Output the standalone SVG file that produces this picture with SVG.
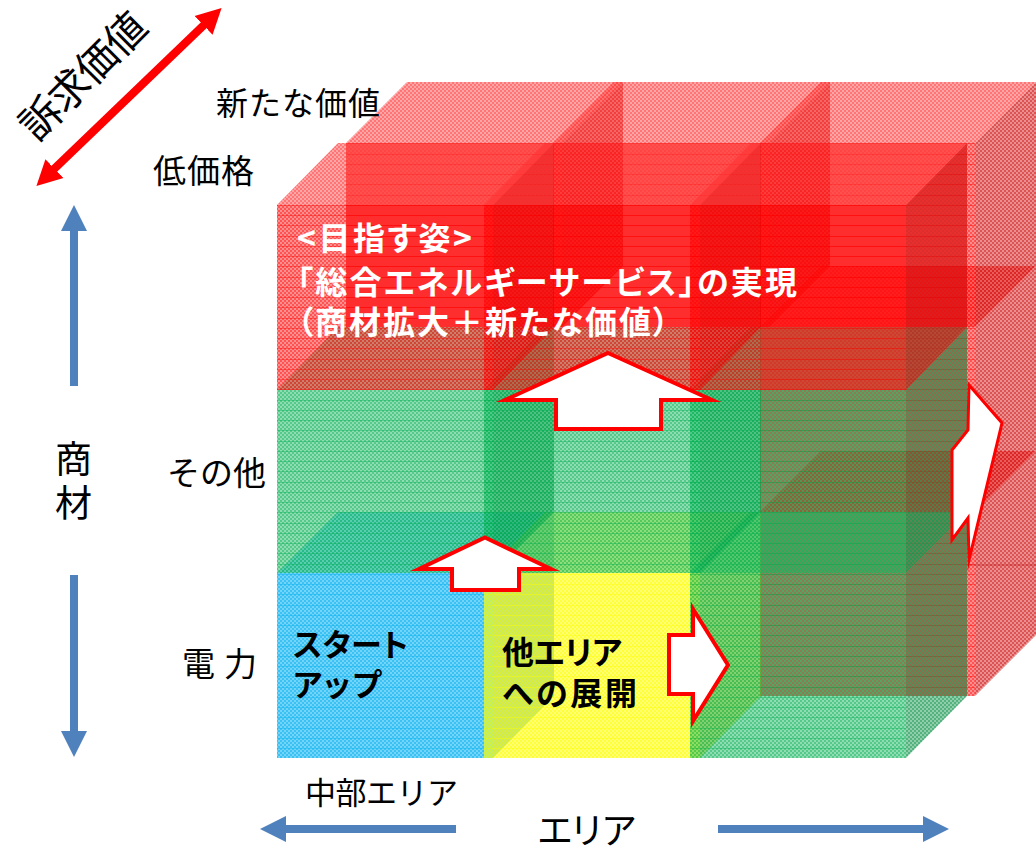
<svg xmlns="http://www.w3.org/2000/svg" width="1036" height="848" viewBox="0 0 1036 848">
<style>
text{font-family:"Noto Sans CJK JP","Liberation Sans",sans-serif;fill:#000}
.w{fill:#fff;font-weight:700;font-feature-settings:"palt"}
.b{font-weight:700;font-feature-settings:"palt"}
.f{mask:url(#mf)}
.t,.s{mask:url(#mt)}
#layer-back .f{mask:url(#mf2)}
#layer-back .t,#layer-back .s{mask:url(#mt2)}
.blu .f,.yel .f{mask:url(#mfh)}
.red .f{fill:#f00}.red .t{fill:#f33}.red .s{fill:#c00}
.grn .f{fill:#00b050}.grn .t{fill:#33c073}.grn .s{fill:#008d40}
.blu .f{fill:#00b0f0}.blu .t{fill:#33c0f3}.blu .s{fill:#008dc0}
.yel .f{fill:#ff0}.yel .t{fill:#ff3}.yel .s{fill:#cc0}
.ua{fill:#fff;stroke:#f00;stroke-width:4;stroke-miterlimit:12}
.ba{stroke:#4f81bd;stroke-width:8;fill:none;marker-end:url(#bh)}
</style>
<defs>
<pattern id="ck" width="4" height="4" patternUnits="userSpaceOnUse">
<rect width="4" height="4" fill="#fff" fill-opacity=".44"/>
<rect width="2" height="2" fill="#fff" fill-opacity=".42"/>
<rect x="2" y="2" width="2" height="2" fill="#fff" fill-opacity=".42"/>
</pattern>
<pattern id="ck2" width="4" height="4" patternUnits="userSpaceOnUse">
<rect width="4" height="4" fill="#fff" fill-opacity=".44"/>
<rect x="2" width="2" height="2" fill="#fff" fill-opacity=".42"/>
<rect y="2" width="2" height="2" fill="#fff" fill-opacity=".42"/>
</pattern>
<pattern id="ckh" width="4" height="4" patternUnits="userSpaceOnUse">
<rect width="4" height="4" fill="#fff" fill-opacity=".55"/>
<rect width="2" height="2" fill="#fff" fill-opacity=".5"/>
<rect x="2" y="2" width="2" height="2" fill="#fff" fill-opacity=".5"/>
</pattern>
<pattern id="ln" width="4" height="41" y="205" patternUnits="userSpaceOnUse">
<rect y="0" width="4" height="1" fill="#fff" fill-opacity=".4"/>
<rect y="10" width="4" height="1" fill="#fff" fill-opacity=".4"/>
<rect y="20" width="4" height="1" fill="#fff" fill-opacity=".4"/>
<rect y="31" width="4" height="1" fill="#fff" fill-opacity=".4"/>
</pattern>
<mask id="mf" maskUnits="userSpaceOnUse" x="0" y="0" width="1036" height="848">
<rect width="1036" height="848" fill="url(#ck)"/>
<rect width="1036" height="848" fill="url(#ln)"/>
</mask>
<mask id="mt" maskUnits="userSpaceOnUse" x="0" y="0" width="1036" height="848">
<rect width="1036" height="848" fill="url(#ck)"/>
</mask>
<mask id="mf2" maskUnits="userSpaceOnUse" x="0" y="0" width="1036" height="848">
<rect width="1036" height="848" fill="url(#ck2)"/>
<rect width="1036" height="848" fill="url(#ln)"/>
</mask>
<mask id="mt2" maskUnits="userSpaceOnUse" x="0" y="0" width="1036" height="848">
<rect width="1036" height="848" fill="url(#ck2)"/>
</mask>
<mask id="mfh" maskUnits="userSpaceOnUse" x="0" y="0" width="1036" height="848">
<rect width="1036" height="848" fill="url(#ckh)"/>
<rect width="1036" height="848" fill="url(#ln)"/>
</mask>
<marker id="rh" markerUnits="userSpaceOnUse" markerWidth="26" markerHeight="28" refX="2" refY="14" orient="auto-start-reverse"><path d="M0 1L25 14L0 27z" fill="#f00"/></marker>
<marker id="bh" markerUnits="userSpaceOnUse" markerWidth="26" markerHeight="26" refX="0" refY="13" orient="auto"><path d="M0 0L26 13L0 26z" fill="#4f81bd"/></marker>
</defs>

<g id="layer-back">
<g id="cube-b-0-0" class="red"><rect class="f" x="346" y="143" width="216" height="184"/><polygon class="t" points="346,143 407,82 623,82 562,143"/><polygon class="s" points="562,143 623,82 623,266 562,327"/></g>
<g id="cube-b-1-0" class="red"><rect class="f" x="553" y="143" width="216" height="184"/><polygon class="t" points="553,143 614,82 830,82 769,143"/><polygon class="s" points="769,143 830,82 830,266 769,327"/></g>
<g id="cube-b-2-2" class="red"><rect class="f" x="760" y="512" width="215" height="184"/><polygon class="t" points="760,512 821,451 1036,451 975,512"/><polygon class="s" points="975,512 1036,451 1036,635 975,696"/></g>
<g id="cube-b-2-1" class="red"><rect class="f" x="760" y="327" width="215" height="185"/><polygon class="t" points="760,327 821,266 1036,266 975,327"/><polygon class="s" points="975,327 1036,266 1036,451 975,512"/></g>
<g id="cube-b-2-0" class="red"><rect class="f" x="760" y="143" width="215" height="184"/><polygon class="t" points="760,143 821,82 1036,82 975,143"/><polygon class="s" points="975,143 1036,82 1036,266 975,327"/></g>
</g>

<g id="layer-front">
<g id="cube-blue" class="blu"><rect class="f" x="277" y="573" width="216" height="185"/><polygon class="t" points="277,573 338,512 554,512 493,573"/><polygon class="s" points="493,573 554,512 554,696 493,758"/></g>
<g id="cube-yellow" class="yel"><rect class="f" x="484" y="573" width="216" height="185"/><polygon class="t" points="484,573 545,512 761,512 700,573"/><polygon class="s" points="700,573 761,512 761,696 700,758"/></g>
<g id="cube-green-2" class="grn"><rect class="f" x="690" y="573" width="216" height="185"/><polygon class="t" points="690,573 751,512 967,512 906,573"/><polygon class="s" points="906,573 967,512 967,696 906,758"/></g>
<g id="cube-green-0-1" class="grn"><rect class="f" x="277" y="390" width="216" height="183"/><polygon class="t" points="277,390 338,327 554,327 493,390"/><polygon class="s" points="493,390 554,327 554,512 493,573"/></g>
<g id="cube-green-1-1" class="grn"><rect class="f" x="484" y="390" width="216" height="183"/><polygon class="t" points="484,390 545,327 761,327 700,390"/><polygon class="s" points="700,390 761,327 761,512 700,573"/></g>
<g id="cube-green-2-1" class="grn"><rect class="f" x="690" y="390" width="216" height="183"/><polygon class="t" points="690,390 751,327 967,327 906,390"/><polygon class="s" points="906,390 967,327 967,512 906,573"/></g>
<g id="cube-red-0-0" class="red"><rect class="f" x="277" y="205" width="216" height="185"/><polygon class="t" points="277,205 338,143 554,143 493,205"/><polygon class="s" points="493,205 554,143 554,327 493,390"/></g>
<g id="cube-red-1-0" class="red"><rect class="f" x="484" y="205" width="216" height="185"/><polygon class="t" points="484,205 545,143 761,143 700,205"/><polygon class="s" points="700,205 761,143 761,327 700,390"/></g>
<g id="cube-red-2-0" class="red"><rect class="f" x="690" y="205" width="216" height="185"/><polygon class="t" points="690,205 751,143 967,143 906,205"/><polygon class="s" points="906,205 967,143 967,327 906,390"/></g>
</g>

<g id="connectors">
<line x1="53" y1="170" x2="205" y2="24" stroke="#f00" stroke-width="8" marker-start="url(#rh)" marker-end="url(#rh)"/>
<line class="ba" x1="74" y1="386" x2="74" y2="231"/>
<line class="ba" x1="74" y1="575" x2="74" y2="731"/>
<line class="ba" x1="456" y1="829" x2="286" y2="829"/>
<line class="ba" x1="718" y1="829" x2="923" y2="829"/>
</g>

<g id="arrow-up-large"><polygon class="ua" points="608,353 712,400 661,400 661,429 556,429 556,400 505,400"/></g>
<g id="arrow-up-small"><polygon class="ua" points="485,537.500 551,569 519,569 519,590 452,590 452,569 419,569"/></g>
<g id="arrow-right"><polygon class="ua" points="693,609 728,665 693,721 693,694 669,694 669,635 693,635"/></g>
<g id="arrow-distorted"><polygon class="ua" style="stroke-width:3" points="969,385 1002,423 969,560 968,518 952,540 952,450 968,430"/></g>

<g id="labels">
<text x="216" y="115" font-size="32" textLength="164">新たな価値</text>
<text x="153" y="183" font-size="33" textLength="101">低価格</text>
<text x="167" y="485" font-size="33" textLength="99">その他</text>
<text x="182" y="676" font-size="33" textLength="75" xml:space="preserve">電 力</text>
<text font-size="37"><tspan x="55" y="473">商</tspan><tspan x="55" y="517">材</tspan></text>
<text transform="translate(37,143) rotate(-45)" font-size="41" textLength="160">訴求価値</text>
<text x="305" y="804" font-size="31" textLength="153">中部エリア</text>
<text x="537" y="844" font-size="36" textLength="100">エリア</text>
<text class="w" font-size="32"><tspan x="297" y="250" textLength="175">&lt;目指す姿&gt;</tspan><tspan x="297" y="294" textLength="500">「総合エネルギーサービス」の実現</tspan><tspan x="297" y="334" textLength="372">（商材拡大＋新たな価値）</tspan></text>
<text class="b" font-size="31"><tspan x="293" y="656" textLength="115">スタート</tspan><tspan x="293" y="696" textLength="88">アップ</tspan></text>
<text class="b" font-size="32"><tspan x="502" y="664" textLength="120">他エリア</tspan><tspan x="502" y="705" textLength="135">への展開</tspan></text>
</g>

<line id="side-hairline" x1="968" y1="565" x2="1036" y2="565" stroke="#b00" stroke-opacity=".5"/>
</svg>
